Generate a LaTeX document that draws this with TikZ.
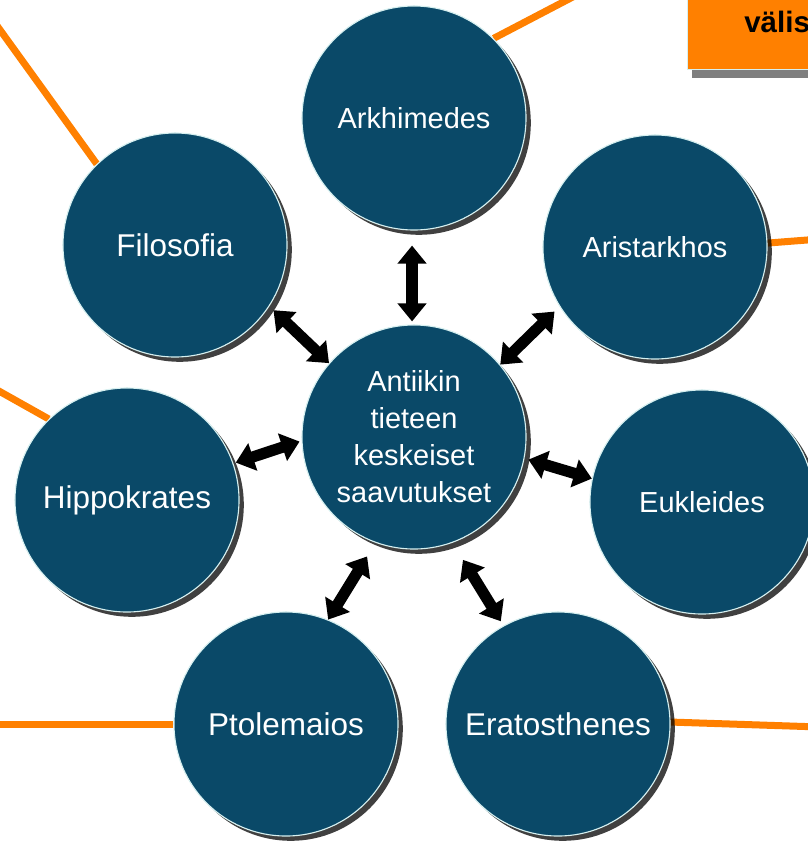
\documentclass[tikz,border=0pt]{standalone}
\usepackage{fontspec}
\setmainfont{Liberation Sans}
\usepackage{xcolor}
\usepackage{tikz}
\usetikzlibrary{arrows.meta, shadows, backgrounds}

\definecolor{discblue}{RGB}{10,73,104}
\definecolor{rimcyan}{RGB}{214,240,240}
\definecolor{lineorange}{RGB}{255,128,0}

\begin{document}
\begin{tikzpicture}[
  x=0.025cm, y=-0.025cm,
  disc/.style={circle, fill=discblue, draw=rimcyan, line width=0.8pt,
               minimum size=5.6cm, inner sep=0pt, text=white, align=center,
               font=\fontsize{20.6}{26.3}\selectfont,
               drop shadow={shadow xshift=0.12cm, shadow yshift=-0.12cm,
                            fill=black, opacity=0.75}},
  bigtext/.style={font=\fontsize{22.4}{28}\selectfont},
  link/.style={line width=0.175cm, lineorange},
  dbl/.style={{Triangle[length=0.45cm, width=0.7cm]}-{Triangle[length=0.45cm, width=0.7cm]},
              line width=0.28cm},
  tagbox/.style={rectangle, fill=lineorange, draw=rimcyan, line width=0.6pt,
                 minimum width=5cm, minimum height=2.5cm,
                 drop shadow={shadow xshift=0.12cm, shadow yshift=-0.2cm,
                              fill=black, opacity=0.5}},
  tagtext/.style={font=\fontsize{21}{24}\selectfont\bfseries, inner sep=0pt},
]
  \useasboundingbox (0,0) rectangle (808,841);
  \clip (0,0) rectangle (808,841);

  % orange box at the top right
  \node[tagbox, anchor=south west] (tag) at (687,70) {};
  \node[tagtext, anchor=base west] (tagword) at (744,33) {välis};

  % discs
  \node[disc] (cent)  at (414,437) {Antiikin\\tieteen\\keskeiset\\saavutukset};
  \node[disc] (arkh)  at (414,118) {Arkhimedes};
  \node[disc, bigtext] (filo)  at (175,245) {Filosofia};
  \node[disc] (arist) at (655,247) {Aristarkhos};
  \node[disc, bigtext] (hipp)  at (127,500) {Hippokrates};
  \node[disc] (eukl)  at (702,502) {Eukleides};
  \node[disc, bigtext] (ptol)  at (286,724) {Ptolemaios};
  \node[disc, bigtext] (erat)  at (558,724) {Eratosthenes};

  % loose ends of the orange lines
  \coordinate (filoend)  at (-10,16);
  \coordinate (arkhend)  at (590,-12);
  \coordinate (aristend) at (820,239);
  \coordinate (hippend)  at (-10,386);
  \coordinate (ptolend)  at (-10,724);
  \coordinate (eratend)  at (820,727);

  \begin{scope}[on background layer]
    \draw[link] (filoend)  -- (filo.134);
    \draw[link] (arkhend)  -- (arkh.45);
    \draw[link] (aristend) -- (arist.2);
    \draw[link] (hippend)  -- (hipp.134);
    \draw[link] (ptolend)  -- (ptol.180);
    \draw[link] (eratend)  -- (erat.1);
  \end{scope}

  % double arrows
  \draw[dbl, shorten <=0.075cm, shorten >=0.375cm] (cent.91.5) -- (arkh.-91.4);
  \draw[dbl, shorten >=0.14cm] (cent.139.4) -- (filo.-33.6);
  \draw[dbl, shorten >=0.175cm] (cent.40.3) -- (arist.-148.7);
  \draw[dbl, shorten <=0.05cm, shorten >=0.06cm] (cent.182.5) -- (hipp.19.4);
  \draw[dbl, shorten <=0.1cm] (cent.-11.4) -- (eukl.168.6);
  \draw[dbl, shorten <=0.4cm] (cent.-110.1) -- (ptol.68);
  \draw[dbl, shorten <=0.5cm, shorten >=0.125cm] (cent.-70.6) -- (erat.119.6);
\end{tikzpicture}
\end{document}
